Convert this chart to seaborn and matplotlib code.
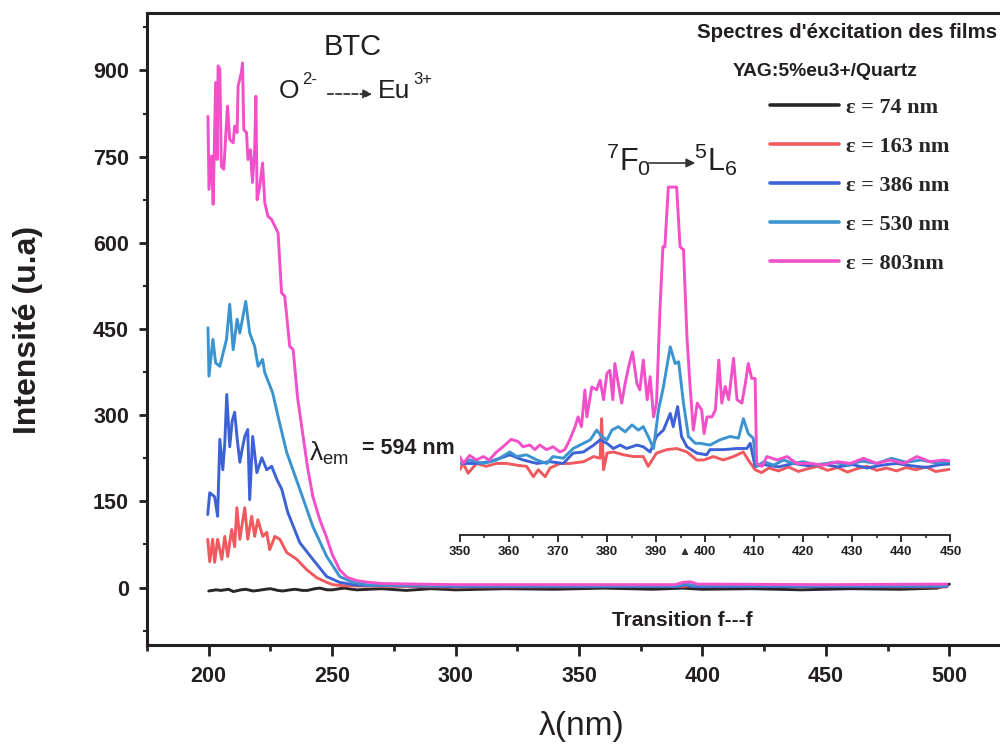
import matplotlib
matplotlib.use("Agg")
import matplotlib.pyplot as plt
import seaborn as sns
from matplotlib.ticker import MultipleLocator

# ---------------- data ----------------
series_labels = ["ε = 74 nm", "ε = 163 nm", "ε = 386 nm", "ε = 530 nm", "ε = 803nm"]
series_colors = ["#2b2626", "#f0595e", "#3d62d6", "#3b94cf", "#f24fc8"]

# main spectra (200-500 nm)
wl_74 = [200, 203, 205, 208, 210, 213, 215, 218, 220, 223, 225, 228, 230, 233, 235, 238, 240, 243,
         245, 248, 250, 253, 255, 258, 260, 270, 280, 290, 300, 320, 340, 360, 380, 392, 400, 420,
         440, 460, 480, 495, 499, 500]
int_74 = [-6, -4, -5, -3, -7, -4, -3, -6, -5, -3, -2, -5, -6, -4, -3, -5, -5, -2, -1, -4, -4, -2,
          -1, -3, -4, -2, -5, -2, -4, -2, -3, -1, -3, -1, -3, -2, -4, -2, -3, -1, 4, 6]

wl_163 = [199.6, 200.4, 201.6, 202.4, 203.6, 205.3, 206.5, 207.7, 209.3, 210.5, 211.4, 212.6,
          214.6, 215.8, 217.4, 218.6, 219.9, 221.9, 223.5, 224.7, 226.8, 228.8, 231.6, 235.7,
          239.7, 243.8, 247.8, 250.3, 255, 300, 392, 395, 499]
int_163 = [84, 45, 84, 44, 84, 49, 89, 54, 101, 71, 139, 84, 139, 84, 124, 89, 118, 89, 96, 66,
           89, 84, 61, 49, 31, 17, 9, 5, 3, 1, 2, 3, 1]

wl_386 = [199.6, 200.4, 202.4, 203.6, 204.5, 205.7, 206.5, 207.3, 208.5, 209.5, 210.5, 211.5,
          212.6, 213.5, 214.6, 215.8, 216.6, 217.8, 219.5, 221.5, 223.5, 225.5, 227.6, 229.6,
          232.0, 236.9, 242.2, 247.8, 253.1, 260, 300, 390, 393, 396, 499]
int_386 = [127, 165, 158, 124, 258, 205, 250, 336, 245, 290, 305, 260, 218, 240, 263, 275, 153,
           263, 200, 226, 205, 211, 188, 171, 131, 78, 49, 19, 9, 4, 2, 2, 5, 2, 2]

wl_530 = [199.7, 200.1, 201.7, 202.8, 204.5, 207.2, 208.5, 209.9, 211.5, 212.6, 215.0, 216.6,
          218.6, 220.0, 221.8, 222.7, 225.9, 228.5, 231.6, 236.9, 242.2, 247.8, 253.1, 258.4,
          265, 300, 390, 393, 396, 499]
int_530 = [452, 368, 432, 391, 385, 432, 493, 414, 467, 443, 498, 443, 420, 385, 397, 374, 339,
           290, 235, 171, 106, 54, 19, 9, 4, 3, 3, 7, 4, 3]

wl_803 = [199.7, 200.1, 201.1, 201.8, 202.8, 203.4, 203.8, 204.5, 205.1, 206.1, 207.6, 208.5,
          209.9, 210.5, 211.5, 211.9, 213.2, 213.7, 214.2, 215.3, 215.9, 216.9, 217.7, 218.6,
          219.1, 219.6, 220.7, 221.8, 222.7, 224.0, 225.4, 226.8, 228.1, 229.5, 230.8, 232.8,
          234.2, 236, 238, 240, 242.2, 245, 247.6, 250, 253, 256, 260, 265, 270, 300, 350, 389,
          392, 395, 398, 450, 499]
int_803 = [820, 693, 751, 667, 879, 745, 908, 902, 733, 728, 838, 780, 774, 803, 792, 873, 896,
           913, 797, 792, 745, 762, 705, 762, 855, 675, 699, 739, 670, 646, 641, 629, 617, 513,
           507, 420, 414, 330, 270, 210, 158, 118, 89, 58, 31, 18, 12, 9, 7, 5, 5, 5, 9, 10, 6,
           5, 6]

main_wl = [wl_74, wl_163, wl_386, wl_530, wl_803]
main_int = [int_74, int_163, int_386, int_530, int_803]

# inset (350-450 nm, f-f transitions)
in_wl_163 = [350, 350.7, 351.7, 353.4, 355.4, 357.5, 359.5, 361.6, 363.6, 365, 366, 367.4, 368.4,
             370.4, 372.4, 375.2, 377.3, 378.6, 378.9, 379.3, 380, 381.3, 383.4, 385.4, 387.4,
             388.4, 390.1, 392.2, 394.2, 396.3, 398.3, 399.7, 401.7, 403.7, 405.8, 407.8, 408.8,
             410.2, 411.5, 413, 415, 417, 419, 421, 423, 425, 427, 429, 431, 433, 435, 437, 439,
             441, 443, 445, 447, 450]
in_int_163 = [205, 216, 199, 216, 211, 216, 216, 213, 211, 193, 205, 193, 208, 216, 216, 219,
              228, 225, 294, 205, 234, 236, 231, 228, 228, 211, 234, 240, 242, 236, 222, 222,
              228, 222, 228, 236, 222, 205, 200, 208, 203, 210, 202, 207, 211, 204, 209, 201,
              207, 211, 204, 208, 203, 209, 205, 210, 202, 206]

in_wl_386 = [350, 353.4, 356.1, 360.2, 362.9, 365.7, 368.4, 371.1, 373.1, 375.2, 377.3, 378.6,
             380, 381.3, 382.7, 384, 386.1, 387.4, 388.8, 390.1, 391.5, 392.9, 393.5, 394.4,
             395.2, 396.3, 398.3, 400.3, 401, 403.7, 406.5, 408.5, 409.2, 410.2, 412, 415, 418,
             421, 424, 427, 430, 433, 436, 439, 442, 445, 448, 450]
in_int_386 = [216, 216, 219, 231, 222, 216, 219, 216, 234, 236, 248, 257, 251, 242, 248, 242,
              248, 245, 236, 263, 274, 303, 280, 315, 263, 245, 234, 231, 240, 240, 242, 242,
              251, 211, 214, 210, 216, 212, 215, 210, 214, 208, 213, 216, 212, 209, 214, 215]

in_wl_530 = [350, 352, 354.8, 357.5, 360.2, 361.6, 363.6, 365.7, 367.7, 369, 371.1, 373.1, 375.2,
             376.6, 377.9, 378.9, 380, 381, 382.3, 383.7, 385.1, 386.4, 387.4, 388.4, 389.5,
             390.5, 391.5, 392.9, 393.9, 394.6, 395.6, 396.6, 398, 399, 401, 403, 405.1, 406.8,
             407.8, 408.8, 409.8, 410.5, 412, 414, 416, 418, 420, 423, 426, 429, 432, 435, 438,
             441, 444, 447, 450]
in_int_530 = [216, 222, 216, 222, 236, 228, 231, 222, 216, 228, 225, 242, 251, 257, 274, 263,
              257, 274, 280, 271, 283, 274, 280, 263, 242, 309, 349, 419, 390, 393, 321, 263,
              251, 251, 248, 257, 263, 260, 294, 268, 260, 211, 219, 213, 222, 216, 219, 213,
              218, 214, 220, 216, 225, 218, 222, 217, 219]

in_wl_803 = [350, 350.7, 352, 353.4, 354.8, 356, 357.5, 358.8, 360.5, 361.9, 362.9, 364.3, 365.3,
             366.3, 367.7, 369, 370.4, 371.4, 372.4, 373.5, 374.1, 374.8, 375.5, 375.9, 376.9,
             377.9, 378.6, 379.3, 380, 380.6, 381.2, 381.6, 382.3, 383, 383.7, 384.4, 385.2,
             386.1, 386.7, 387.4, 388.2, 388.8, 389.5, 390.1, 390.8, 391.4, 391.8, 392.5, 394.2,
             394.9, 395.6, 396.3, 396.9, 397.6, 398.4, 399.3, 399.8, 400.4, 401.4, 402.1, 402.8,
             403.4, 404.1, 404.8, 405.8, 406.5, 407.5, 408.2, 408.8, 409.5, 410.2, 410.5, 411.6,
             412.6, 414.7, 416.7, 418.7, 421.5, 424.1, 426.9, 429.6, 432.3, 435, 437.8, 440.5,
             443.2, 445.9, 448.6, 450]
in_int_803 = [228, 216, 230, 222, 228, 222, 236, 245, 258, 254, 245, 248, 240, 248, 240, 245,
              236, 240, 257, 280, 297, 280, 344, 297, 349, 344, 361, 327, 373, 378, 327, 390,
              355, 321, 355, 384, 410, 355, 344, 396, 327, 367, 297, 321, 483, 593, 593, 697,
              697, 593, 588, 437, 355, 274, 321, 309, 268, 297, 297, 309, 396, 321, 350, 327,
              399, 327, 321, 355, 390, 364, 364, 216, 211, 228, 222, 228, 216, 216, 213, 219,
              216, 225, 216, 222, 216, 228, 219, 222, 220]

inset_wl = [in_wl_163, in_wl_386, in_wl_530, in_wl_803]
inset_int = [in_int_163, in_int_386, in_int_530, in_int_803]
inset_colors = series_colors[1:]

x_ticks_main = [200, 250, 300, 350, 400, 450, 500]
y_ticks_main = [0, 150, 300, 450, 600, 750, 900]
x_ticks_inset = [350, 360, 370, 380, 390, 400, 410, 420, 430, 440, 450]

# ---------------- style ----------------
sns.set_style("ticks")
plt.rcParams["font.family"] = ["Liberation Sans", "DejaVu Sans"]
plt.rcParams["mathtext.fontset"] = "custom"
plt.rcParams["mathtext.rm"] = "Liberation Sans"
plt.rcParams["mathtext.it"] = "Liberation Sans:italic"
plt.rcParams["mathtext.bf"] = "Liberation Sans:bold"
plt.rcParams["mathtext.default"] = "regular"

W, H = 1000, 746
fig = plt.figure(figsize=(10, 7.46), dpi=100)
ax = fig.add_axes([0.147, 1 - 645 / H, 0.853, (645 - 13) / H])

def fx(px):
    return px / W

def fy(py):
    return 1 - py / H

for wl, it, col, lab in zip(main_wl, main_int, series_colors, series_labels):
    sns.lineplot(x=wl, y=it, color=col, lw=2.1, ax=ax, label=lab,
                 estimator=None, sort=False)

ax.set_xlim(175, 520.5)
ax.set_ylim(-100, 1000)
ax.set_xticks(x_ticks_main)
ax.set_yticks(y_ticks_main)
ax.xaxis.set_minor_locator(MultipleLocator(25))
ax.yaxis.set_minor_locator(MultipleLocator(75))
ax.set_xlabel("")
ax.set_ylabel("")
for s in ["left", "bottom", "top"]:
    ax.spines[s].set_linewidth(2.2)
    ax.spines[s].set_color("#231f20")
ax.spines["right"].set_visible(False)
ax.tick_params(axis="x", which="major", direction="out", length=8, width=2, pad=7,
               labelsize=15.5, colors="#231f20")
ax.tick_params(axis="x", which="minor", direction="out", length=4, width=2)
ax.tick_params(axis="y", which="major", direction="out", length=6, width=2, pad=7,
               labelsize=15.5, colors="#231f20")
ax.tick_params(axis="y", which="minor", direction="out", length=3, width=1.5)
for t in ax.get_xticklabels() + ax.get_yticklabels():
    t.set_fontweight("bold")

# legend
leg = ax.legend(loc="upper left", bbox_to_anchor=(fx(770), fy(97)),
                bbox_transform=fig.transFigure, frameon=False,
                prop={"family": "Liberation Serif", "weight": "bold", "size": 16},
                handlelength=3.1, handletextpad=0.3, labelspacing=0.83,
                borderpad=0, borderaxespad=0)
for ln in leg.get_lines():
    ln.set_linewidth(2.6)

# inset axes
ins = ax.inset_axes([301.7, 91, 198.7, 909], transform=ax.transData)
ins.set_facecolor("none")
for wl, it, col in zip(inset_wl, inset_int, inset_colors):
    sns.lineplot(x=wl, y=it, color=col, lw=2.1, ax=ins, estimator=None, sort=False,
                 legend=False)
ins.set_xlim(350, 450)
ins.set_ylim(91, 1000)
ins.set_xticks(x_ticks_inset)
ins.xaxis.set_minor_locator(MultipleLocator(5))
ins.set_yticks([])
ins.set_xlabel("")
ins.set_ylabel("")
for s in ["left", "right", "top"]:
    ins.spines[s].set_visible(False)
ins.spines["bottom"].set_linewidth(1.3)
ins.spines["bottom"].set_color("#231f20")
ins.tick_params(axis="x", which="major", direction="out", length=5, width=1.3, pad=3,
                labelsize=9.5, colors="#231f20")
ins.tick_params(axis="x", which="minor", direction="out", length=2.5, width=1.2)
for t in ins.get_xticklabels():
    t.set_fontweight("bold")

# ---------------- annotations ----------------
fig.text(fx(353), fy(47), "BTC", fontsize=21, ha="center", va="center", color="#231f20")
fig.text(fx(279), fy(91), "O", fontsize=19, ha="left", va="center", color="#231f20")
fig.text(fx(302), fy(80), "2-", fontsize=12, ha="left", va="center", color="#231f20")
fig.text(fx(378), fy(91), "Eu", fontsize=19, ha="left", va="center", color="#231f20")
fig.text(fx(413), fy(80), "3+", fontsize=12, ha="left", va="center", color="#231f20")
ax.annotate("", xy=(fx(375), fy(94)), xytext=(fx(325), fy(94)),
            xycoords="figure fraction", textcoords="figure fraction",
            arrowprops=dict(arrowstyle="-|>", linestyle=(0, (3, 1.5)), color="#333333",
                            lw=1.3, mutation_scale=13))

fig.text(fx(606), fy(160), "$^{7}$F$_{0}$", fontsize=22, ha="left", va="center",
         color="#231f20")
fig.text(fx(694), fy(160), "$^{5}$L$_{6}$", fontsize=22, ha="left", va="center",
         color="#231f20")
ax.annotate("", xy=(fx(698), fy(163)), xytext=(fx(646), fy(163)),
            xycoords="figure fraction", textcoords="figure fraction",
            arrowprops=dict(arrowstyle="-|>", color="#333333", lw=1.2, mutation_scale=13))

fig.text(fx(309), fy(453), "λ$_{em}$", fontsize=19, ha="left", va="center", color="#231f20")
fig.text(fx(362), fy(449), "= 594 nm", fontsize=15.5, fontweight="bold", ha="left",
         va="center", color="#231f20")

fig.text(fx(697), fy(32), "Spectres d'éxcitation des films", fontsize=14.8,
         fontweight="bold", ha="left", va="center", color="#231f20")
fig.text(fx(733), fy(72), "YAG:5%eu3+/Quartz", fontsize=13.9, fontweight="bold",
         ha="left", va="center", color="#231f20")

fig.text(fx(682), fy(621), "Transition f---f", fontsize=15, fontweight="bold",
         ha="center", va="center", color="#231f20")
ax.annotate("", xy=(fx(685), fy(545)), xytext=(fx(685), fy(557)),
            xycoords="figure fraction", textcoords="figure fraction",
            arrowprops=dict(arrowstyle="-|>", color="#333333", lw=1.0, mutation_scale=9))

fig.text(fx(28), fy(330), "Intensité (u.a)", fontsize=23, fontweight="bold", rotation=90,
         ha="center", va="center", color="#231f20")
fig.text(fx(582), fy(727), "λ(nm)", fontsize=24, ha="center", va="center", color="#231f20")

fig.savefig("out.png", dpi=100)
